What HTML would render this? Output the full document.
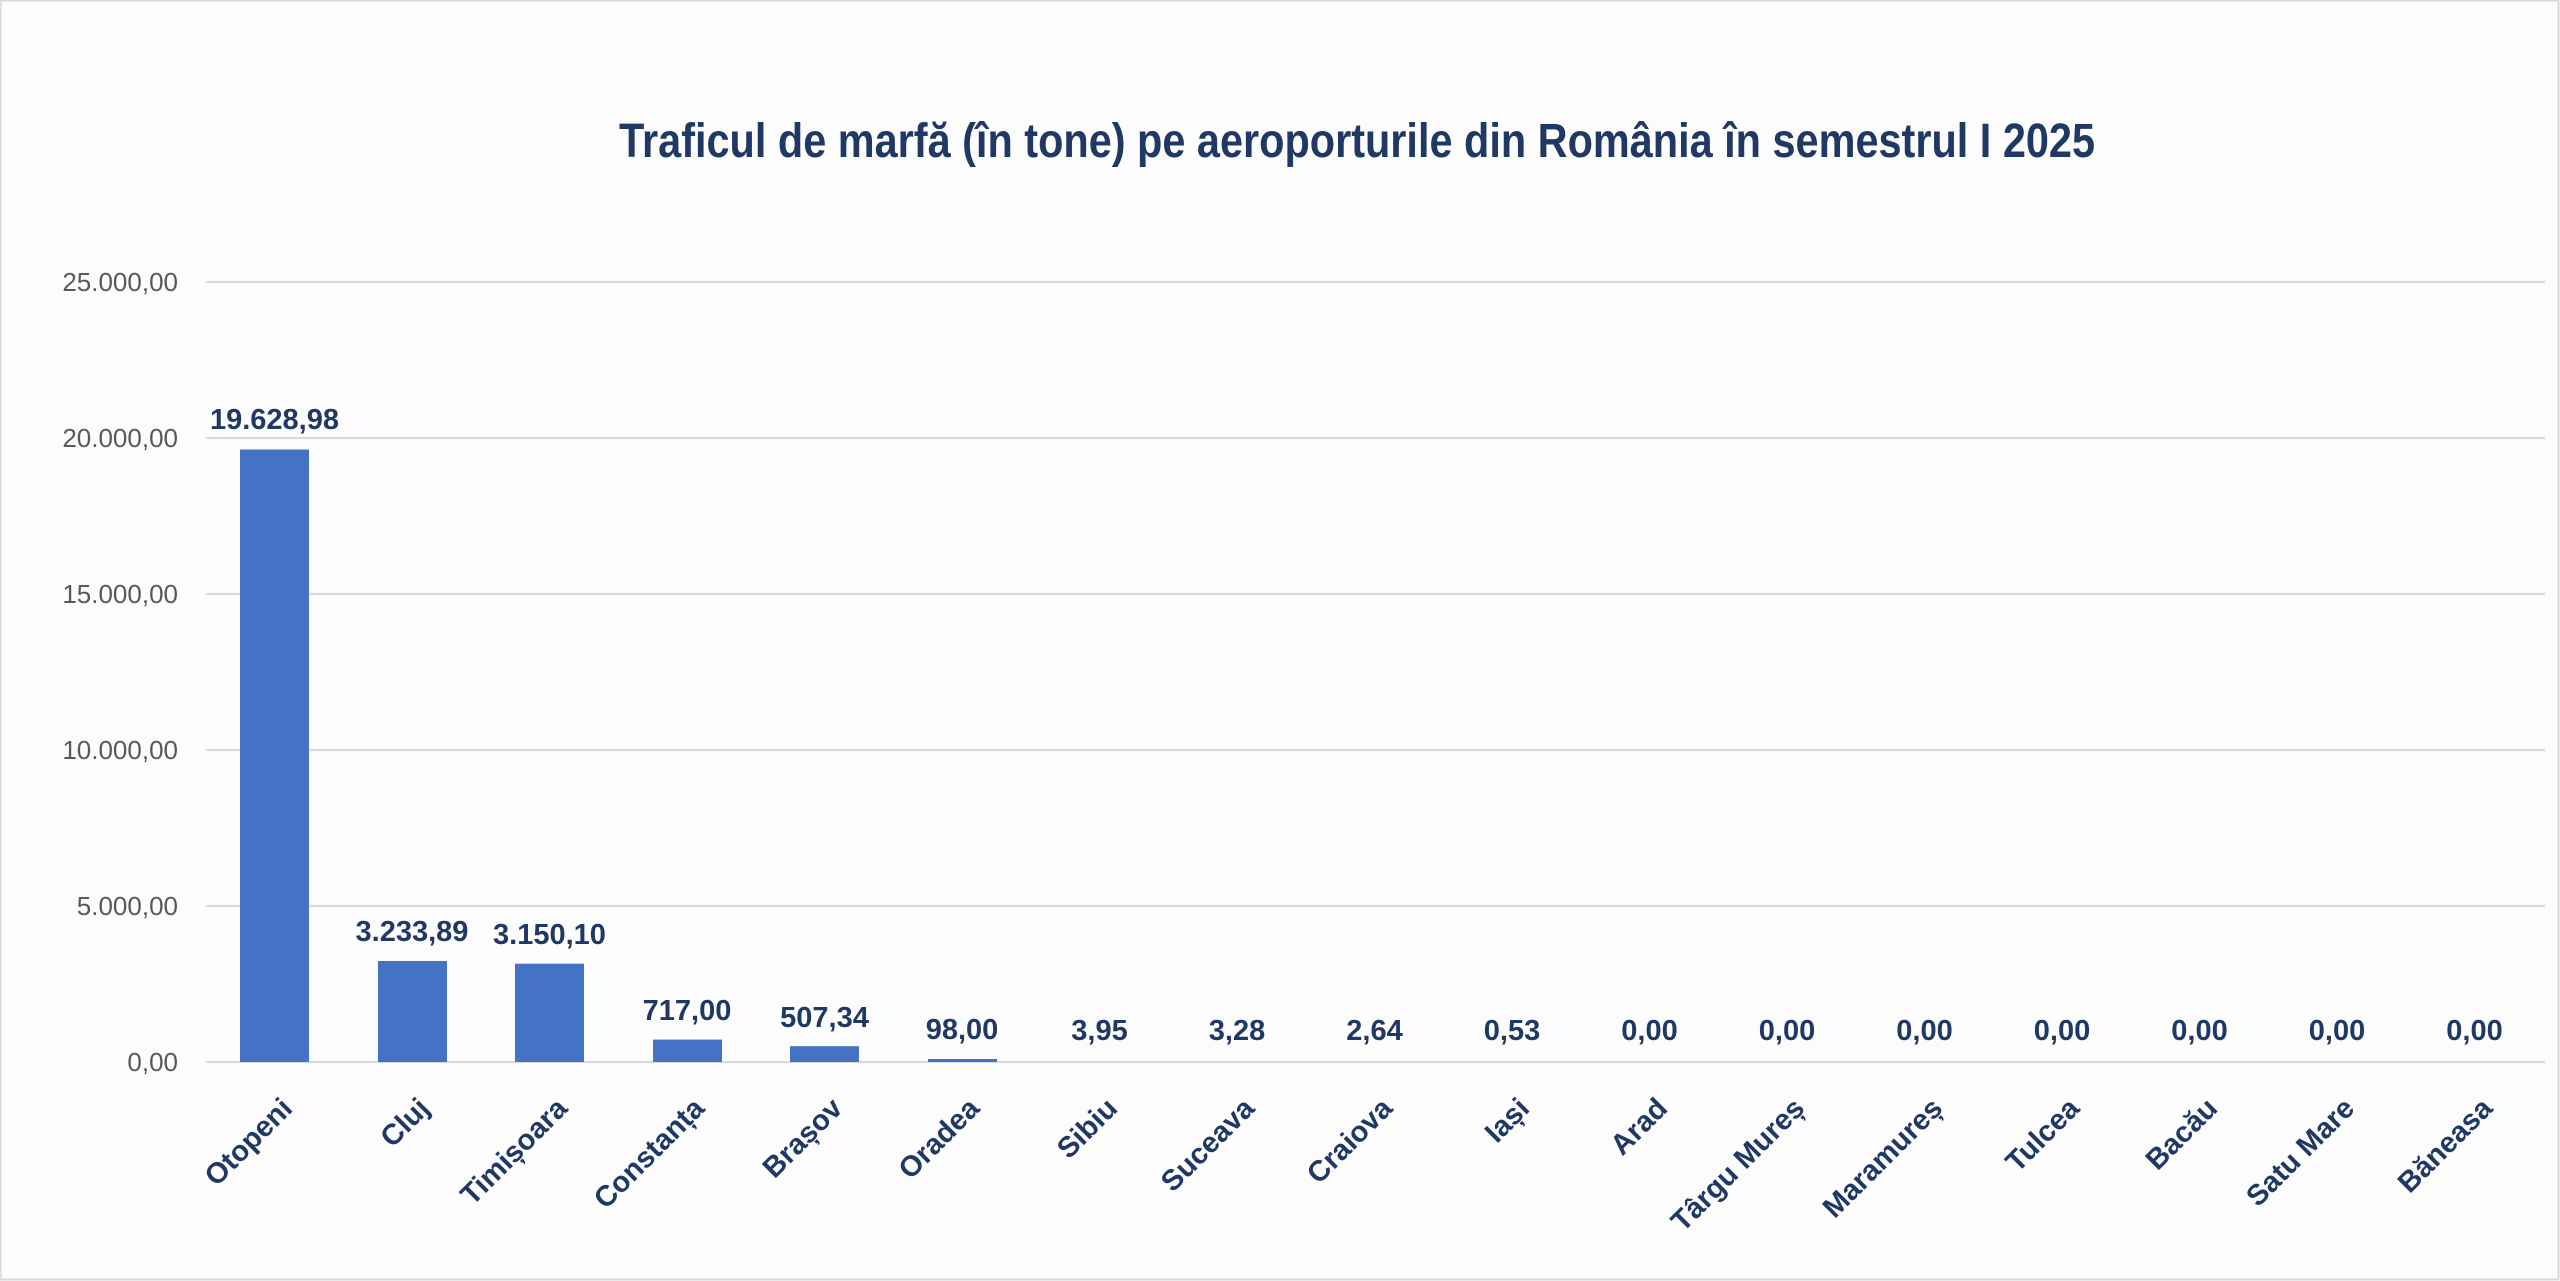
<!DOCTYPE html>
<html><head><meta charset="utf-8"><style>
html,body{margin:0;padding:0;background:#fcfcfc;}
svg{display:block;}
</style></head><body>
<svg width="2560" height="1281" viewBox="0 0 2560 1281" xmlns="http://www.w3.org/2000/svg" font-family="'Liberation Sans', sans-serif">
<rect x="0.5" y="0.5" width="2558" height="1279" fill="#fcfcfc" stroke="#d9d9d9" stroke-width="2"/>
<text x="619" y="157" font-size="48" font-weight="bold" fill="#203864" textLength="1476" lengthAdjust="spacingAndGlyphs">Traficul de marfă (în tone) pe aeroporturile din România în semestrul I 2025</text>
<g stroke="#d9d9d9" stroke-width="2">
<line x1="206" x2="2545" y1="282" y2="282"/>
<line x1="206" x2="2545" y1="438" y2="438"/>
<line x1="206" x2="2545" y1="594" y2="594"/>
<line x1="206" x2="2545" y1="750" y2="750"/>
<line x1="206" x2="2545" y1="906" y2="906"/>
<line x1="206" x2="2545" y1="1062" y2="1062"/>
</g>
<g font-size="26" fill="#595959" text-anchor="end">
<text x="178" y="291">25.000,00</text>
<text x="178" y="447">20.000,00</text>
<text x="178" y="603">15.000,00</text>
<text x="178" y="759">10.000,00</text>
<text x="178" y="915">5.000,00</text>
<text x="178" y="1071">0,00</text>
</g>
<g fill="#4472c4">
<rect x="240" y="449.5" width="69" height="612.5"/>
<rect x="378" y="961" width="69" height="101"/>
<rect x="515" y="963.7" width="69" height="98.3"/>
<rect x="653" y="1039.6" width="69" height="22.4"/>
<rect x="790" y="1046.2" width="69" height="15.8"/>
<rect x="928" y="1059" width="69" height="3"/>
</g>
<g font-size="29" font-weight="bold" fill="#203864" text-anchor="middle">
<text x="274.5" y="429">19.628,98</text>
<text x="412" y="941">3.233,89</text>
<text x="549.5" y="944">3.150,10</text>
<text x="687" y="1020">717,00</text>
<text x="824.5" y="1027">507,34</text>
<text x="962" y="1039">98,00</text>
<text x="1099.5" y="1040">3,95</text>
<text x="1237" y="1040">3,28</text>
<text x="1374.5" y="1040">2,64</text>
<text x="1512" y="1040">0,53</text>
<text x="1649.5" y="1040">0,00</text>
<text x="1787" y="1040">0,00</text>
<text x="1924.5" y="1040">0,00</text>
<text x="2062" y="1040">0,00</text>
<text x="2199.5" y="1040">0,00</text>
<text x="2337" y="1040">0,00</text>
<text x="2474.5" y="1040">0,00</text>
</g>
<g font-size="29" font-weight="bold" fill="#203864" text-anchor="end">
<text transform="translate(294,1110) rotate(-45)">Otopeni</text>
<text transform="translate(431,1110) rotate(-45)">Cluj</text>
<text transform="translate(569,1110) rotate(-45)">Timișoara</text>
<text transform="translate(706,1110) rotate(-45)">Constanța</text>
<text transform="translate(844,1110) rotate(-45)">Brașov</text>
<text transform="translate(981,1110) rotate(-45)">Oradea</text>
<text transform="translate(1119,1110) rotate(-45)">Sibiu</text>
<text transform="translate(1256,1110) rotate(-45)">Suceava</text>
<text transform="translate(1394,1110) rotate(-45)">Craiova</text>
<text transform="translate(1531,1110) rotate(-45)">Iași</text>
<text transform="translate(1669,1110) rotate(-45)">Arad</text>
<text transform="translate(1806,1110) rotate(-45)">Târgu Mureș</text>
<text transform="translate(1944,1110) rotate(-45)">Maramureș</text>
<text transform="translate(2081,1110) rotate(-45)">Tulcea</text>
<text transform="translate(2219,1110) rotate(-45)">Bacău</text>
<text transform="translate(2356,1110) rotate(-45)">Satu Mare</text>
<text transform="translate(2494,1110) rotate(-45)">Băneasa</text>
</g>
</svg>
</body></html>
